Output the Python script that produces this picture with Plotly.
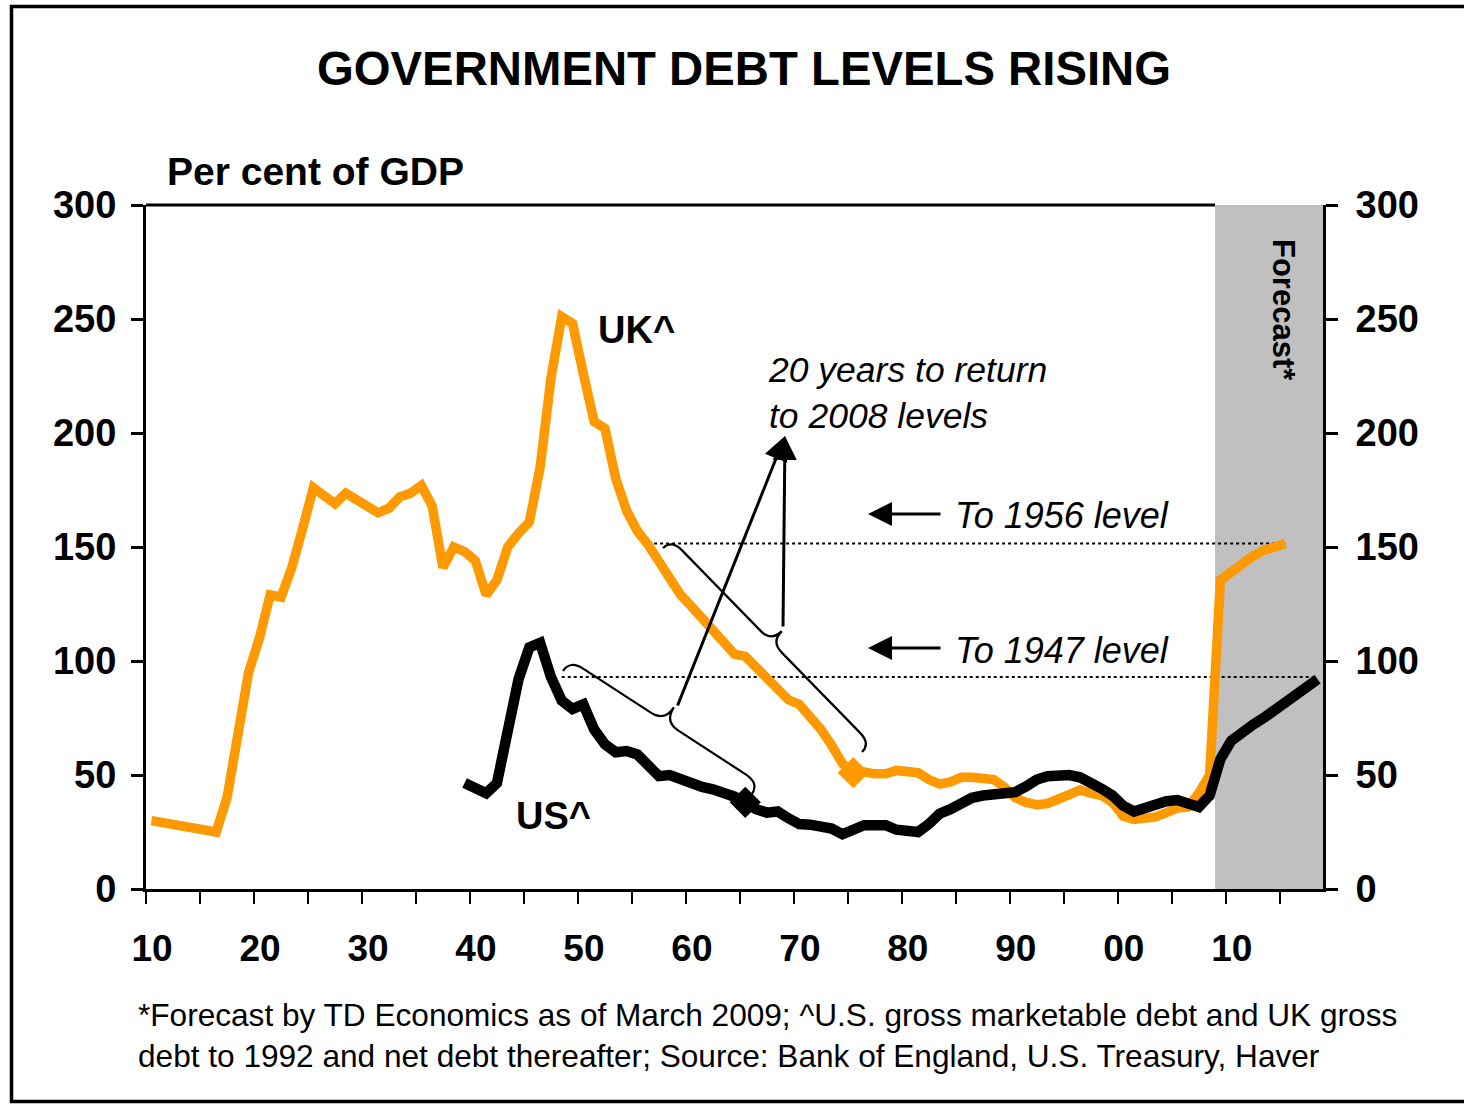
import plotly.graph_objects as go

# ---------------- data ----------------
uk_years = list(range(1910, 2016))
uk_values = [30, 29, 28, 27, 26.3, 25.6, 25, 40, 65, 95,
             110, 129, 128, 141, 158, 176, 172.5, 169, 173.6, 170.6,
             168, 165, 167, 172, 173.6, 177, 168, 141, 150, 148,
             144, 129, 135.5, 150, 156, 161, 185, 224, 251, 248,
             226, 205, 202, 180, 166, 157, 151, 143, 136, 129,
             124, 119, 114.5, 109, 103, 102, 97, 92, 87, 83,
             81, 76, 70, 63, 55, 51, 51.3, 50.5, 50.5, 52,
             51.5, 51, 48, 46, 47, 49, 49, 49, 48, 44.7,
             40, 38, 37, 37.5, 39.5, 42, 43.4, 42, 41, 38,
             32, 30.5, 31, 31.6, 33.5, 35.5, 36, 42, 50, 135.5,
             139, 143, 146, 148.5, 150, 151.5]

us_years = list(range(1939, 2019))
us_values = [46.5, 44, 42, 46.5, 72, 92, 106, 108, 93, 82.6,
             79, 81, 70, 63.5, 60, 60.5, 59, 54, 49.5, 50,
             48, 46, 44.8, 43.7, 42.5, 40.5, 38, 35, 33.5, 34,
             31, 28.5, 28.2, 27.5, 26.5, 24, 26, 28, 28, 28,
             26, 25, 25, 28.5, 33, 35, 37.5, 40, 41, 41.5,
             42, 42.5, 45, 48, 49.5, 50, 50, 49, 47, 44,
             41, 36.5, 34, 35.5, 37.5, 38.5, 39, 37, 36, 41,
             57, 65, 69, 72, 75, 78.5, 82, 85, 88, 92]

y_ticks = [0, 50, 100, 150, 200, 250, 300]
forecast_start = 2009
uk_marker_year = 1975
us_marker_year = 1965
uk_level_from = 1956
us_level_from = 1948

# ---------------- geometry helpers ----------------
W, H = 1464, 1104
PL, PR, PT, PB = 146, 1323, 205, 889
X_MIN, X_MAX = 1909.5, 2018.5
Y_MIN, Y_MAX = 0, 300


def xd(px):
    return X_MIN + (px - PL) / (PR - PL) * (X_MAX - X_MIN)


def yd(py):
    return Y_MIN + (PB - py) / (PB - PT) * (Y_MAX - Y_MIN)


def xp(px):
    return (px - PL) / (PR - PL)


def yp(py):
    return (PB - py) / (PB - PT)


def x_to_paper(x):
    return (x - X_MIN) / (X_MAX - X_MIN)


FONT = "Liberation Sans, Arial, sans-serif"
ORANGE = "#FF9900"

fig = go.Figure()

fig.add_trace(go.Scatter(x=uk_years, y=uk_values, mode="lines",
                         line=dict(color=ORANGE, width=9.5), showlegend=False,
                         hoverinfo="skip"))
fig.add_trace(go.Scatter(x=us_years, y=us_values, mode="lines",
                         line=dict(color="black", width=10.5), showlegend=False,
                         hoverinfo="skip"))
fig.add_trace(go.Scatter(x=[uk_marker_year], y=[uk_values[uk_years.index(uk_marker_year)]],
                         mode="markers", marker=dict(symbol="diamond", size=24, color=ORANGE),
                         showlegend=False, hoverinfo="skip"))
fig.add_trace(go.Scatter(x=[us_marker_year], y=[us_values[us_years.index(us_marker_year)]],
                         mode="markers", marker=dict(symbol="diamond", size=24, color="black"),
                         showlegend=False, hoverinfo="skip"))
# right axis carrier
fig.add_trace(go.Scatter(x=[None], y=[None], yaxis="y2", showlegend=False, hoverinfo="skip"))

uk_end = uk_values[-1]
us_end = us_values[-1]

shapes = [
    dict(type="rect", xref="x", yref="y", x0=forecast_start - 0.5, x1=X_MAX, y0=Y_MIN, y1=Y_MAX,
         fillcolor="#C0C0C0", line=dict(width=0), layer="below"),
    dict(type="line", xref="paper", yref="paper", x0=0, x1=x_to_paper(forecast_start - 0.5), y0=1, y1=1,
         line=dict(color="black", width=3), layer="below"),
    dict(type="line", xref="x", yref="y", x0=uk_level_from, x1=uk_years[-1], y0=uk_end, y1=uk_end,
         line=dict(color="black", width=2, dash="dot"), layer="below"),
    dict(type="line", xref="x", yref="y", x0=us_level_from, x1=us_years[-1], y0=us_end + 1, y1=us_end + 1,
         line=dict(color="black", width=2, dash="dot"), layer="below"),
    # outer frame
    dict(type="rect", xref="paper", yref="paper", x0=xp(11.5), x1=xp(1475), y0=yp(1101.5), y1=yp(6.5),
         line=dict(color="black", width=3.5), fillcolor="rgba(0,0,0,0)", layer="below"),
]


def brace(p0, p1, arm, depth, r):
    import math
    x0, y0 = p0
    x1, y1 = p1
    dx, dy = x1 - x0, y1 - y0
    L = math.hypot(dx, dy)
    ux, uy = dx / L, dy / L
    nx, ny = uy, -ux

    def P(u, v):
        px, py = x0 + ux * u + nx * v, y0 + uy * u + ny * v
        return f"{xd(px):.4f},{yd(py):.4f}"
    m = L / 2
    return (f"M{P(0,0)} Q{P(0,arm)} {P(r,arm)} L{P(m-r,arm)} Q{P(m,arm)} {P(m,depth)} "
            f"Q{P(m,arm)} {P(m+r,arm)} L{P(L-r,arm)} Q{P(L,arm)} {P(L,0)}")


shapes.append(dict(type="path", xref="x", yref="y", path=brace((663, 548), (862, 752), 12, 27, 15),
                   line=dict(color="black", width=2.2)))
shapes.append(dict(type="path", xref="x", yref="y", path=brace((563, 671), (752, 794), 13, 30, 16),
                   line=dict(color="black", width=2.2)))

annotations = []


def arrow(tip, tail):
    annotations.append(dict(x=xd(tip[0]), y=yd(tip[1]), ax=xd(tail[0]), ay=yd(tail[1]),
                            xref="x", yref="y", axref="x", ayref="y", text="", showarrow=True,
                            arrowhead=2, arrowsize=1.6, arrowwidth=3, arrowcolor="black", standoff=0))


arrow((785, 436), (677, 707))
arrow((785, 436), (783, 628))
arrow((868, 514), (942, 514))
arrow((868, 648), (942, 648))


def text(t, px, py, size, bold=False, italic=False, xanchor="left", yanchor="middle", angle=0):
    s = t
    if bold:
        s = f"<b>{s}</b>"
    if italic:
        s = f"<i>{s}</i>"
    annotations.append(dict(text=s, x=xp(px), y=yp(py), xref="paper", yref="paper",
                            xanchor=xanchor, yanchor=yanchor, showarrow=False, textangle=angle,
                            font=dict(family=FONT, size=size, color="black"), align="left"))


text("GOVERNMENT DEBT LEVELS RISING", 744, 68, 47.3, bold=True, xanchor="center")
text("Per cent of GDP", 165, 172, 39, bold=True)
text("UK^", 596, 330, 38, bold=True)
text("US^", 514, 816, 38, bold=True)
text("20 years to return<br>to 2008 levels", 766, 393, 35.5, italic=True)
text("To 1956 level", 953, 515, 36, italic=True)
text("To 1947 level", 953, 650, 36, italic=True)
text("Forecast*", 1284, 310, 31, bold=True, xanchor="center", angle=90)
text("*Forecast by TD Economics as of March 2009; ^U.S. gross marketable debt and UK gross<br>"
     "debt to 1992 and net debt thereafter; Source: Bank of England, U.S. Treasury, Haver",
     136, 1035, 31.6)

x_tickvals = [y - 0.5 for y in range(1910, 2019, 5)]
x_ticktext = [f"{int(v + 0.5) % 100:02d}" if int(v + 0.5) % 10 == 0 else "" for v in x_tickvals]

fig.update_layout(
    width=W, height=H,
    margin=dict(l=PL, r=W - PR, t=PT, b=H - PB, pad=0),
    paper_bgcolor="white", plot_bgcolor="white",
    shapes=shapes, annotations=annotations,
    font=dict(family=FONT, color="black"),
    xaxis=dict(range=[X_MIN, X_MAX], tickvals=x_tickvals, ticktext=x_ticktext,
               ticks="outside", ticklen=12, tickwidth=2, tickcolor="black",
               showline=True, linecolor="black", linewidth=3, showgrid=False, zeroline=False,
               tickfont=dict(family=FONT, size=37, color="black", weight="bold"),
               ticklabelstandoff=13, ticklabelshift=6),
    yaxis=dict(range=[Y_MIN, Y_MAX], tickvals=y_ticks, ticks="outside", ticklen=12, tickwidth=3,
               tickcolor="black", showline=True, linecolor="black", linewidth=3, showgrid=False,
               zeroline=False, tickfont=dict(family=FONT, size=38, color="black", weight="bold"),
               ticklabelstandoff=7),
    yaxis2=dict(range=[Y_MIN, Y_MAX], tickvals=y_ticks, overlaying="y", side="right",
                ticks="outside", ticklen=12, tickwidth=3, tickcolor="black", showline=True,
                linecolor="black", linewidth=3, showgrid=False, zeroline=False,
                tickfont=dict(family=FONT, size=38, color="black", weight="bold"),
                ticklabelstandoff=10),
)

fig.write_html("out.html", config={"displayModeBar": False},
               post_script="document.body.style.margin='0px';document.body.style.overflow='hidden';")
